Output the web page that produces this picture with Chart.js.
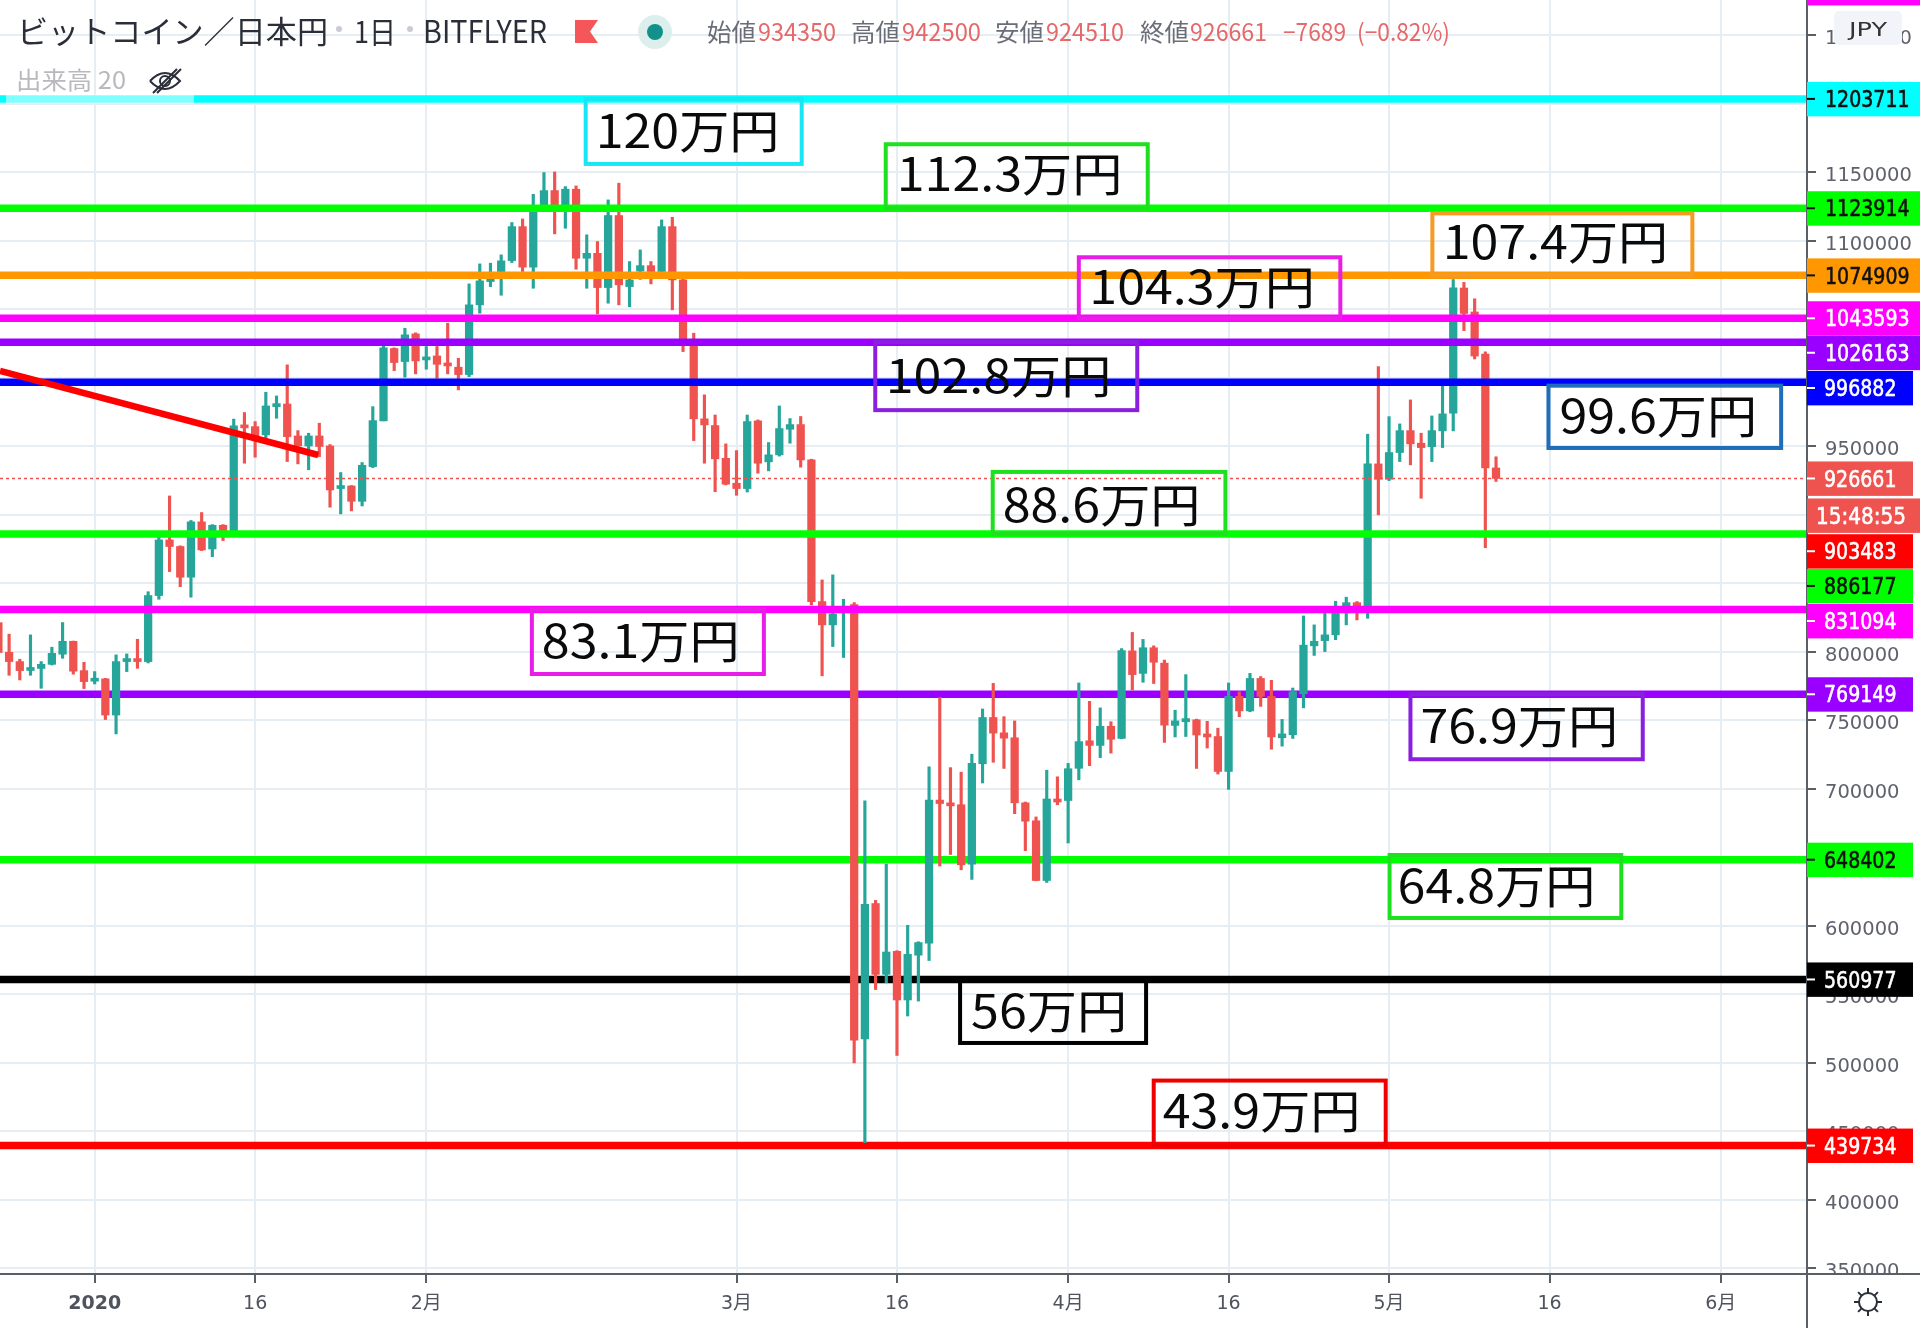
<!DOCTYPE html>
<html lang="ja">
<head>
<meta charset="utf-8">
<title>ビットコイン／日本円</title>
<style>html,body{margin:0;padding:0;background:#fff}canvas{display:block}</style>
<script src="https://cdn.jsdelivr.net/npm/chart.js@4"></script>
</head>
<body>
<canvas id="c" width="1920" height="1328"></canvas>
<script>
const firstDay = -9;            // days from 2020-01-01 of the first candle
const xMin = -8.85, xMax = 160.07;
const yMin = 345985, yMax = 1275912;

const opens = [
821400,799800,793000,786500,788000,791000,798400,807800,786400,778700,
780400,754000,793000,794000,793000,841200,881800,877000,854600,895000,
875200,892500,886700,965300,964500,958500,979100,981000,957700,950400,
957700,950400,919300,921200,910000,935300,968700,1021500,1012000,1032200,
1013200,1016100,1010300,1007900,1002500,1053400,1070400,1077700,1085700,1110500,
1080900,1125000,1136800,1126000,1137800,1087400,1091000,1066000,1118600,1066700,
1078000,1082000,1077700,1110500,1071600,1026600,970200,965300,941400,923200,
919300,968700,938800,943900,962600,966000,940200,836800,819800,829500,
834600,517500,616400,564700,581500,546000,578700,587400,691900,689600,
688500,645200,718400,752200,741000,737400,689900,676800,633200,692700,
691600,715100,735200,731800,745800,736900,800800,784400,803100,791900,
746400,749100,750500,739600,738300,712800,767600,757000,780700,767600,
737400,739600,769500,804500,808300,812500,833200,836000,833200,937300,
926100,945600,961600,952400,949900,961400,974300,1065700,1048200,1017500,
934350];
const highs = [
825000,813000,794700,812500,793000,803500,821500,808000,792500,785700,
780800,797900,798600,809300,844000,887000,913900,877500,896000,901800,
893000,893000,970000,974800,968200,989600,986900,1009600,961600,959700,
967000,951400,931000,921500,938300,979100,1023400,1022000,1036300,1033000,
1023000,1023000,1040000,1014400,1068700,1083300,1083800,1089900,1113500,1116100,
1134100,1150000,1150400,1139700,1140200,1104500,1099600,1130000,1142200,1085000,
1093500,1085000,1115400,1117300,1072000,1032700,987700,973000,951900,947000,
973000,969400,952900,979600,970400,971900,940700,852600,856300,838500,
836000,691300,618700,645200,582000,600500,588500,716200,766800,715600,
712300,725400,758400,777100,752800,749700,690500,679600,713700,708900,
718700,777400,764000,759200,749100,802500,814300,809200,804500,794100,
757500,783500,751000,749400,744400,777400,771000,784400,782100,779300,
750800,773700,826300,819800,828300,837000,840000,836800,959000,1008300,
971800,966500,984000,959700,972300,994000,1071900,1069800,1057800,1019100,
942500];
const lows = [
795000,783000,779600,783000,773500,790500,795400,783800,773300,776700,
750700,740200,785700,788100,792000,838500,858700,847700,840000,874000,
869600,881300,885000,937800,942200,956000,970600,939000,937300,933000,
942600,905700,900800,903000,906600,934600,968700,1005400,1000600,1003000,
1006400,999800,1003000,991300,1001000,1047300,1066700,1060400,1084300,1077700,
1065500,1123900,1105200,1109300,1079400,1065500,1046800,1054600,1053400,1052000,
1072000,1068700,1076000,1049700,1019300,954300,937800,917000,922000,914400,
916800,930500,932200,943000,952400,934900,834400,782600,804000,796000,
500000,441800,553600,558600,505500,534300,545200,574800,643800,652200,
641000,634000,704400,719500,715000,682000,655000,633000,631800,688500,
660600,706700,717000,722900,726200,736600,772300,777900,777000,734000,
738000,738300,715000,729900,710900,699700,752800,756400,760300,729000,
731300,736900,759200,797500,800300,809000,819800,823400,824600,900100,
925100,939000,936600,912200,939000,949200,961400,1034600,1013900,876100,
924510];
const closes = [
799600,793000,786400,787700,791000,799000,807800,786000,778400,779900,
754000,793000,794000,793000,841200,881800,877000,854600,895000,874500,
892500,887000,965000,963600,957700,979600,981000,957200,950400,957700,
950000,918300,921200,910000,936300,968900,1022000,1011300,1031500,1012500,
1015200,1010000,1008800,1002500,1053400,1070900,1072300,1085500,1110500,1080900,
1121200,1136800,1126000,1137800,1087400,1091000,1066000,1118600,1068000,1071600,
1082000,1077700,1110500,1071600,1027800,970200,965800,941000,922500,919300,
968200,937800,943900,963100,966000,940200,836800,819800,827800,833000,
516700,615900,564700,581000,546000,579300,587900,691900,689400,687700,
644700,718700,752200,740800,737100,689900,676500,633200,692700,690500,
714800,734600,731800,745800,736300,801100,783500,803100,792500,746600,
749700,751400,739400,738000,712800,767600,757000,780700,767600,738000,
740200,771000,805000,807800,812500,832000,836000,833200,937300,926100,
945600,961600,951900,949200,961600,973800,1065900,1047100,1016000,934350,
926661];

const lastPrice = 926661;
const levels      = [1203711,1123914,1074909,1043593,1026163,996882,886177,831094,769149,648402,560977,439734];
const levelColors = ['#00ffff','#00ff00','#ff9800','#ff00ff','#9900ff','#0000ff','#00ff00','#ff00ff','#9900ff','#00ff00','#000000','#ff0000'];
const levelsBelowCandles = [769149,648402,560977,439734];
const trendX = [-8.85,20.9];
const trendY = [1005100,943800];

const yTicks = [350000,400000,450000,500000,550000,600000,650000,700000,750000,800000,850000,900000,950000,1000000,1050000,1100000,1150000,1200000,1250000];
const xTickDays = [0,15,31,60,75,91,106,121,136,152];
const xTickLabels = ['2020','16','2月','3月','16','4月','16','5月','16','6月'];

const UP = '#26a69a', DOWN = '#ef5350';
const FONT = '"DejaVu Sans","Noto Sans CJK JP",sans-serif';
const JP = '"Noto Sans CJK JP",sans-serif';

// label box: text, colour, level it hangs from, left day, width, top & bottom offset, text offset, baseline offset
const notes = [
 ['120万円','#18e6f5',1203711,45.9,216,0,65,10,49],
 ['112.3万円','#1fe01f',1123914,73.95,262,-64,0,11,-17],
 ['107.4万円','#f59a23',1074909,125.05,260,-62,0,10.3,-16],
 ['104.3万円','#e81ee8',1043593,92.0,261.5,-61,0,10.5,-14],
 ['102.8万円','#8a1fe0',1026163,72.97,262,0,68,10.5,51],
 ['99.6万円','#1f6dbb',996882,135.9,232.7,3.4,65.7,11,51],
 ['88.6万円','#1fe01f',886177,83.95,232.7,-62,0,10,-12],
 ['83.1万円','#e81ee8',831094,40.87,232,0,64.6,10,48.6],
 ['76.9万円','#8a1fe0',769149,123,232.3,0,65,10,49],
 ['64.8万円','#1fe01f',648402,121.05,231.7,-4.7,58.3,8,43],
 ['56万円','#000000',560977,80.9,186,0,63.5,11,48.5],
 ['43.9万円','#ee0000',439734,99,232,-65,0,9,-17.6]
];
// price tags on the axis: text, value, shift, background, text colour, wide
const tags = [
 ['',1284672,0,'#ff00ff','#fff',true],
 ['1203711',1203711,0,'#00ffff','#111',true],
 ['1123914',1123914,0,'#00ff00','#111',true],
 ['1074909',1074909,0,'#ff9800','#111',true],
 ['1043593',1043593,0,'#ff00ff','#fff',true],
 ['1026163',1026163,10.6,'#9900ff','#fff',true],
 ['996882',996882,5.7,'#0000ff','#fff',false],
 ['926661',926661,0,'#ef5350','#fff',false],
 ['15:48:55',926661,37,'#ef5350','#fff',true],
 ['903483',903483,41,'#ff0000','#fff',false],
 ['886177',886177,52,'#00ff00','#111',false],
 ['831094',831094,11.6,'#ff00ff','#fff',false],
 ['769149',769149,0,'#9900ff','#fff',false],
 ['648402',648402,0,'#00ff00','#111',false],
 ['560977',560977,0,'#000000','#fff',false],
 ['439734',439734,0,'#ff0000','#fff',false]
];

const days = opens.map((_, i) => firstDay + i);
const candleColors = opens.map((o, i) => closes[i] >= o ? UP : DOWN);

function fitText(ctx, s, x, y, font, color, w) {
  ctx.save();
  ctx.font = font; ctx.fillStyle = color; ctx.textAlign = 'left'; ctx.textBaseline = 'alphabetic';
  const m = ctx.measureText(s).width;
  ctx.translate(x, y); ctx.scale(w ? w / m : 1, 1);
  ctx.fillText(s, 0, 0);
  ctx.restore();
}

const overlay = {
  id: 'overlay',
  afterDraw(chart) {
    const ctx = chart.ctx, xs = chart.scales.x, ys = chart.scales.y;
    const ax = chart.chartArea.right, ay = chart.chartArea.bottom, W = chart.width, H = chart.height;
    ctx.save();
    // legend tint over the cyan line
    ctx.fillStyle = 'rgba(255,255,255,0.5)';
    ctx.fillRect(6, ys.getPixelForValue(1203711) - 5, 188, 10);

    // labelled boxes
    notes.forEach(n => {
      const [t, col, lvl, d, w, top, bot, dx, base] = n;
      const x = xs.getPixelForValue(d), y = ys.getPixelForValue(lvl);
      ctx.strokeStyle = col; ctx.lineWidth = 4;
      ctx.strokeRect(x, y + top, w, bot - top);
      ctx.save();
      ctx.font = '46px ' + JP; ctx.fillStyle = '#0a0a0a'; ctx.textBaseline = 'alphabetic';
      ctx.translate(x + dx, y + base); ctx.scale(1.09, 1);
      ctx.fillText(t, 0, 0);
      ctx.restore();
    });

    // bottom-right corner
    ctx.fillStyle = '#fff';
    ctx.fillRect(ax + 1, ay + 1, W - ax, H - ay);
    ctx.strokeStyle = '#5a5e66'; ctx.lineWidth = 2;
    ctx.beginPath(); ctx.moveTo(ax, 0); ctx.lineTo(ax, H); ctx.moveTo(0, ay); ctx.lineTo(W, ay); ctx.stroke();

    // price tags
    tags.forEach(([t, v, shift, bg, fg, wide]) => {
      const cy = ys.getPixelForValue(v) + shift;
      ctx.fillStyle = bg;
      ctx.fillRect(ax, cy - 17, wide ? W - ax : 106, 34.4);
      if (!t) return;
      const clock = t.includes(':');
      if (!clock) { ctx.fillStyle = fg; ctx.fillRect(ax, cy - 1, 8, 2); }
      ctx.save();
      ctx.font = '19px ' + FONT; ctx.fillStyle = fg; ctx.strokeStyle = fg; ctx.lineWidth = 0.5;
      const m = ctx.measureText(t).width;
      ctx.translate(clock ? 1816 : (wide ? 1825 : 1824), cy + 8.2);
      ctx.scale(clock ? 90 / m : 1, 1.18);
      ctx.fillText(t, 0, 0); ctx.strokeText(t, 0, 0);
      ctx.restore();
    });

    // currency badge
    ctx.fillStyle = '#f1f4f8';
    ctx.beginPath(); ctx.roundRect(1834, 11, 68, 34, 5); ctx.fill();
    fitText(ctx, 'JPY', 1849, 36, '20px ' + FONT, '#333', 38);

    // header line
    fitText(ctx, 'ビットコイン／日本円', 17, 43, '31px ' + JP, '#2a2e39', 311);
    fitText(ctx, '1日', 354, 43, '30px ' + JP, '#2a2e39', 42);
    fitText(ctx, 'BITFLYER', 423, 43, '31px ' + JP, '#2a2e39', 124);
    ctx.fillStyle = '#c9ccd2';
    [339, 410].forEach(x => { ctx.beginPath(); ctx.arc(x, 29, 3, 0, 7); ctx.fill(); });
    // flag
    ctx.fillStyle = '#f4565a';
    ctx.beginPath(); ctx.moveTo(575, 20); ctx.lineTo(598, 20); ctx.lineTo(590, 31.5); ctx.lineTo(598, 43); ctx.lineTo(575, 43); ctx.closePath(); ctx.fill();
    // status dot
    ctx.fillStyle = '#ddefed'; ctx.beginPath(); ctx.arc(655, 32, 17, 0, 7); ctx.fill();
    ctx.fillStyle = '#12908a'; ctx.beginPath(); ctx.arc(655, 32, 8, 0, 7); ctx.fill();
    // OHLC row
    const grey = '#6a6d78', red = '#e5686a', rf = '24px ' + JP;
    [['始値',707,grey,49],['934350',758,red,78],['高値',851,grey,49],['942500',902,red,79],
     ['安値',995,grey,49],['924510',1046,red,78],['終値',1140,grey,49],['926661',1190,red,77],
     ['−7689',1283,red,63],['(−0.82%)',1357,red,93]].forEach(([s, x, c, w]) => fitText(ctx, s, x, 41, rf, c, w));
    // volume row + eye
    fitText(ctx, '出来高 20', 16, 89, '24px ' + JP, '#b8b9bd', 110);
    ctx.strokeStyle = '#2a2e39'; ctx.lineWidth = 2;
    ctx.beginPath(); ctx.moveTo(150, 81); ctx.quadraticCurveTo(165, 65, 180, 81); ctx.quadraticCurveTo(165, 97, 150, 81); ctx.stroke();
    ctx.beginPath(); ctx.arc(165, 81, 5, 0, 7); ctx.stroke();
    ctx.beginPath(); ctx.moveTo(153, 93); ctx.lineTo(177, 69); ctx.moveTo(157, 93); ctx.lineTo(181, 69); ctx.stroke();
    // settings icon
    ctx.strokeStyle = '#2a2e39'; ctx.lineWidth = 2;
    ctx.beginPath(); ctx.arc(1868, 1302, 9, 0, 7); ctx.stroke();
    for (let i = 0; i < 8; i++) {
      const a = i * Math.PI / 4;
      ctx.beginPath();
      ctx.moveTo(1868 + Math.cos(a) * 9, 1302 + Math.sin(a) * 9);
      ctx.lineTo(1868 + Math.cos(a) * 14, 1302 + Math.sin(a) * 14);
      ctx.stroke();
    }
    ctx.restore();
  }
};

const levelDatasets = levels.map((v, i) => ({
  type: 'line',
  data: [{x: xMin, y: v}, {x: xMax, y: v}],
  borderColor: levelColors[i], borderWidth: 7.5, pointRadius: 0, fill: false,
  order: levelsBelowCandles.includes(v) ? 5 : 1
}));

new Chart(document.getElementById('c').getContext('2d'), {
  type: 'bar',
  plugins: [overlay],
  data: {
    datasets: [
      ...levelDatasets,
      {
        type: 'line',
        data: trendX.map((x, i) => ({x, y: trendY[i]})),
        borderColor: '#ff0000', borderWidth: 6.5, pointRadius: 0, fill: false, order: 0
      },
      {
        type: 'line',
        data: [{x: xMin, y: lastPrice}, {x: xMax, y: lastPrice}],
        borderColor: DOWN, borderWidth: 1.5, borderDash: [3, 3], pointRadius: 0, fill: false, order: 1
      },
      {
        data: days.map((d, i) => ({x: d, y: [lows[i], highs[i]]})),
        backgroundColor: candleColors, barThickness: 2.5, grouped: false, order: 3, borderWidth: 0
      },
      {
        data: days.map((d, i) => ({x: d, y: [opens[i], closes[i]]})),
        backgroundColor: candleColors, barThickness: 7.6, grouped: false, minBarLength: 3, order: 2, borderWidth: 0
      }
    ]
  },
  options: {
    responsive: false, animation: false, devicePixelRatio: 1,
    layout: {padding: 0},
    plugins: {legend: {display: false}, tooltip: {enabled: false}, title: {display: false}},
    scales: {
      x: {
        type: 'linear', min: xMin, max: xMax, offset: false,
        grid: {color: '#e7eef3', lineWidth: 2, offset: false, tickColor: '#5a5e66', tickLength: 9, tickWidth: 2},
        border: {color: '#5a5e66', width: 2},
        afterBuildTicks: s => { s.ticks = xTickDays.map(v => ({value: v})); },
        afterFit: s => { s.height = 54; s.paddingLeft = s.paddingRight = 0; },
        ticks: {
          autoSkip: false, maxRotation: 0, padding: 10, color: '#50535e',
          font: c => ({family: FONT, size: 19, weight: c.index === 0 ? 'bold' : 'normal'}),
          callback: (v, i) => xTickLabels[i]
        }
      },
      y: {
        type: 'linear', position: 'right', min: yMin, max: yMax,
        grid: {color: '#e7eef3', lineWidth: 2, tickColor: '#5a5e66', tickLength: 9, tickWidth: 2},
        border: {color: '#5a5e66', width: 2},
        afterBuildTicks: s => { s.ticks = yTicks.map(v => ({value: v})); },
        afterFit: s => { s.width = 113; s.paddingTop = s.paddingBottom = 0; },
        ticks: {
          autoSkip: false, padding: 9, color: '#5f626d', align: 'center', crossAlign: 'near',
          font: {family: FONT, size: 19.5, lineHeight: 0.36},
          // an empty first line nudges the digits just below the tick mark
          callback: v => ['', String(v)]
        }
      }
    }
  }
});
</script>
</body>
</html>
